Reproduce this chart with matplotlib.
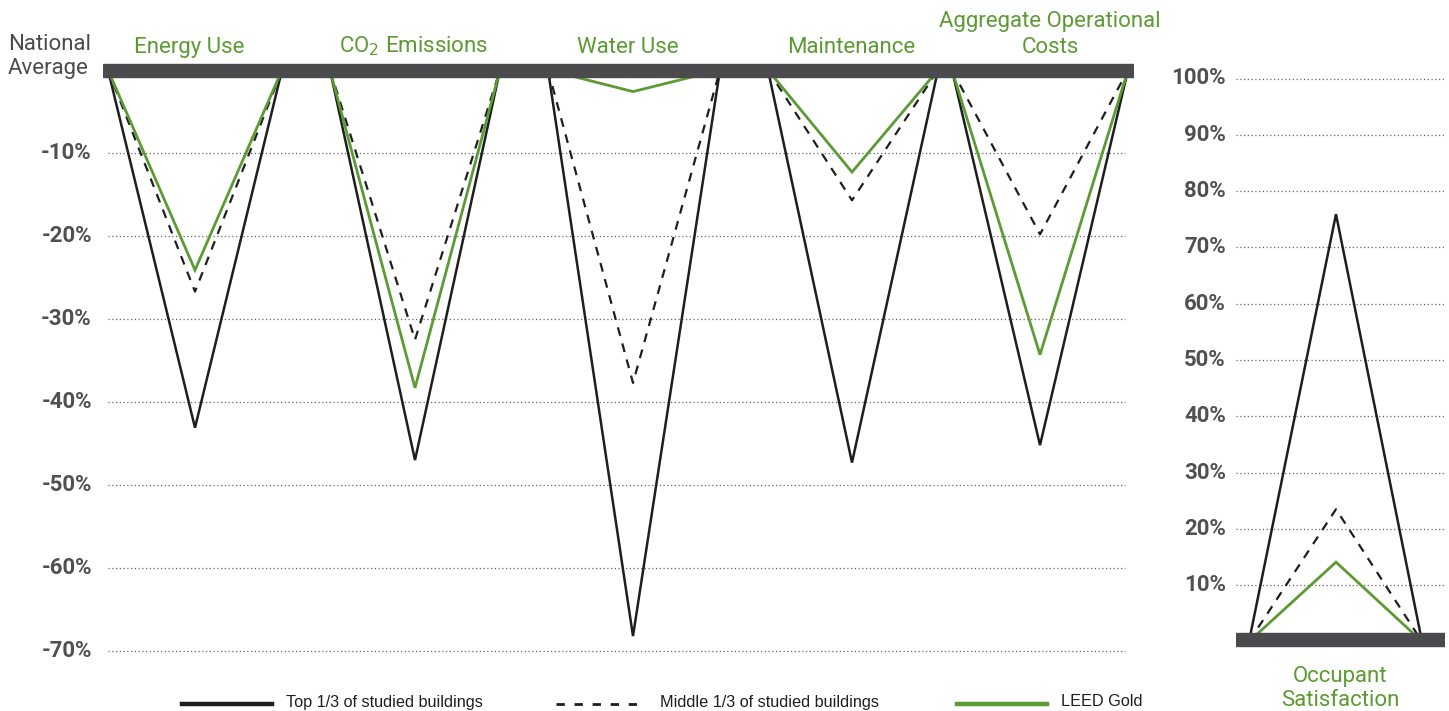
import matplotlib
matplotlib.use("Agg")
import matplotlib.pyplot as plt
from matplotlib.lines import Line2D

# ---- data ----
categories = ["Energy Use", "CO$_2$ Emissions", "Water Use", "Maintenance",
              "Aggregate Operational\nCosts"]
top_third = [-43.1, -47.0, -68.2, -47.3, -45.2]
middle_third = [-26.7, -32.5, -37.7, -15.7, -19.8]
leed_gold = [-24.1, -38.3, -2.6, -12.3, -34.3]
left_ticks = [-10, -20, -30, -40, -50, -60, -70]

satisfaction_label = "Occupant\nSatisfaction"
sat_top = 75.9
sat_middle = 23.5
sat_leed = 14.1
right_ticks = [10, 20, 30, 40, 50, 60, 70, 80, 90, 100]

legend_labels = ["Top 1/3 of studied buildings", "Middle 1/3 of studied buildings", "LEED Gold"]

# ---- style ----
GREEN = "#5c9b34"
DARK = "#4b4b4d"
TICK = "#505052"
BLACK = "#1e1e1e"
TICK_FONT = "Roboto"
LABEL_FONT = "Roboto"
LEGEND_FONT = "Liberation Sans"

W, H = 1449, 711
fig = plt.figure(figsize=(W / 100, H / 100), dpi=100)


def fx(px):
    return px / W


def fy(py):
    return 1 - py / H


# ---- left panel (pixel-based x layout) ----
x0, x1 = 103, 1134
ymin, ymax = -71.0, 0.8
px_per_unit = 8.3
y_top_px = 70 - ymax * px_per_unit
y_bot_px = 70 - ymin * px_per_unit
axL = fig.add_axes([fx(x0), fy(y_bot_px), fx(x1 - x0), (y_bot_px - y_top_px) / H])
axL.set_xlim(x0, x1)
axL.set_ylim(ymin, ymax)
axL.axis("off")

group_left = [108, 330, 548, 768, 952]
group_mid = [195, 415, 633, 852, 1040]
group_right = [282, 500, 720, 938, 1128]

axL.hlines(left_ticks, 108, 1125, colors="#666666", linestyles=(0, (1, 2)), linewidth=0.9)
for t in left_ticks:
    axL.text(92, t, f"{t}%", ha="right", va="center", fontsize=16, fontweight="bold",
             color=TICK, family=TICK_FONT, clip_on=False)

for i in range(len(categories)):
    xs = [group_left[i], group_mid[i], group_right[i]]
    axL.plot(xs, [0, top_third[i], 0], color=BLACK, lw=1.8, solid_joinstyle="miter")
    axL.plot(xs, [0, middle_third[i], 0], color=BLACK, lw=1.6, linestyle=(0, (4, 3.5)))
    axL.plot(xs, [0, leed_gold[i], 0], color=GREEN, lw=2.0, solid_joinstyle="miter")

axL.axhspan(-0.84, 0.72, color=DARK, zorder=5)

label_x = [189, 414, 628, 851, 1050]
for i, c in enumerate(categories):
    axL.text(label_x[i], 1.5, c, ha="center", va="bottom", fontsize=16, color=GREEN,
             family=LABEL_FONT, linespacing=1.28, clip_on=False)
axL.text(8, 1.6, "National\nAverage", ha="left", va="center", fontsize=16, color=DARK,
         family=LABEL_FONT, linespacing=1.18, clip_on=False)

# ---- right panel ----
rx0, rx1 = 1236, 1445
rymin, rymax = -1.5, 103.0
r_px = 5.63
r_zero = 641.5
r_top_px = r_zero - rymax * r_px
r_bot_px = r_zero - rymin * r_px
axR = fig.add_axes([fx(rx0), fy(r_bot_px), fx(rx1 - rx0), (r_bot_px - r_top_px) / H])
axR.set_xlim(rx0, rx1)
axR.set_ylim(rymin, rymax)
axR.axis("off")

axR.hlines(right_ticks, 1236, 1445, colors="#666666", linestyles=(0, (1, 2)), linewidth=0.9)
for t in right_ticks:
    axR.text(1226, t, f"{t}%", ha="right", va="center", fontsize=16, fontweight="bold",
             color=TICK, family=TICK_FONT, clip_on=False)

sx = [1249, 1336, 1422]
axR.plot(sx, [0, sat_top, 0], color=BLACK, lw=1.8, solid_joinstyle="miter")
axR.plot(sx, [0, sat_middle, 0], color=BLACK, lw=1.6, linestyle=(0, (4, 3.5)))
axR.plot(sx, [0, sat_leed, 0], color=GREEN, lw=2.0, solid_joinstyle="miter")
axR.axhspan(-0.8, 1.5, color=DARK, zorder=5)
axR.text(1340, -4.3, satisfaction_label, ha="center", va="top", fontsize=16, color=GREEN,
         family=LABEL_FONT, linespacing=1.22, clip_on=False)

# ---- legend ----
legend_y = fy(704)
styles = [dict(color=BLACK, lw=3.2),
          dict(color=BLACK, lw=2.0, linestyle=(0, (3, 3.5))),
          dict(color=GREEN, lw=3.2)]
legend_x = [182, 556, 957]
for lx, lab, st in zip(legend_x, legend_labels, styles):
    fig.add_artist(Line2D([fx(lx), fx(lx + 90)], [legend_y, legend_y], **st))
    fig.text(fx(lx + 104), fy(702), lab, ha="left", va="center", fontsize=11.7,
             color=BLACK, family=LEGEND_FONT)

fig.savefig("out.png", dpi=100)
